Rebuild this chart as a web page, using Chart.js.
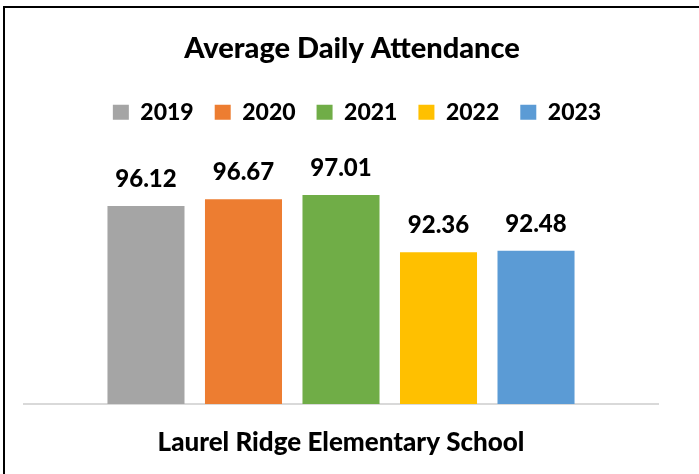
<!DOCTYPE html>
<html>
<head>
<meta charset="utf-8">
<title>Average Daily Attendance</title>
<script src="https://cdn.jsdelivr.net/npm/chart.js@4/dist/chart.umd.min.js"></script>
<style>
  html, body { margin: 0; padding: 0; background: #fff; }
  #wrap { position: relative; width: 699px; height: 474px; overflow: hidden; }
  #chart { position: absolute; left: 0; top: 0; }
  #frame {
    position: absolute; left: 3px; top: 6px; width: 720px; height: 500px;
    border-left: 2px solid #000; border-top: 2px solid #000; pointer-events: none;
  }
</style>
</head>
<body>
<div id="wrap">
  <canvas id="chart" width="699" height="474"></canvas>
  <div id="frame"></div>
</div>
<script>
const schools = ['Laurel Ridge Elementary School'];
const years = ['2019', '2020', '2021', '2022', '2023'];
const attendance = [96.12, 96.67, 97.01, 92.36, 92.48];
const yearColors = ['#A5A5A5', '#ED7D31', '#70AD47', '#FFC000', '#5B9BD5'];

const fontFamily = 'Lato, "Open Sans", sans-serif';
Chart.defaults.font.family = fontFamily;
Chart.defaults.font.weight = '900';
Chart.defaults.color = '#000';

// value labels above each bar
const valueLabels = {
  id: 'valueLabels',
  afterDatasetsDraw(chart) {
    const ctx = chart.ctx;
    ctx.save();
    ctx.font = '900 24px ' + fontFamily;
    ctx.fillStyle = '#000';
    ctx.textAlign = 'center';
    ctx.textBaseline = 'alphabetic';
    chart.data.datasets.forEach((ds, i) => {
      chart.getDatasetMeta(i).data.forEach((bar, j) => {
        ctx.fillText(ds.data[j].toFixed(2), bar.x, bar.y - 19);
      });
    });
    ctx.restore();
  }
};

// legend sits a little right of the chart centre in the original
const nudgeLegend = {
  id: 'nudgeLegend',
  afterLayout(chart) {
    if (chart.legend) {
      chart.legend.left += 5;
      chart.legend.right += 5;
    }
  }
};

const datasets = years.map((year, i) => ({
  label: year,
  data: [attendance[i]],
  backgroundColor: yearColors[i],
  categoryPercentage: 0.769,
  barPercentage: 0.79,
}));

new Chart(document.getElementById('chart'), {
  type: 'bar',
  data: { labels: schools, datasets: datasets },
  options: {
    responsive: false,
    animation: false,
    layout: { padding: { left: 24, right: 19, top: 0, bottom: 0 } },
    plugins: {
      title: {
        display: true,
        text: 'Average Daily Attendance',
        font: { size: 29, weight: '900' },
        color: '#000',
        padding: { top: 31, bottom: 14 },
      },
      legend: {
        display: true,
        position: 'top',
        labels: {
          boxWidth: 16,
          boxHeight: 15,
          padding: 21,
          font: { size: 23, weight: '900' },
          color: '#000',
        },
      },
      tooltip: { enabled: false },
    },
    scales: {
      x: {
        grid: { display: false, drawTicks: false },
        border: { display: true, color: '#D9D9D9', width: 2 },
        ticks: { padding: 23, font: { size: 26, weight: '900' }, color: '#000' },
        afterFit: (scale) => { scale.height = 70; },
      },
      y: {
        position: 'right',
        min: 80,
        max: 102,
        grid: { display: false, drawTicks: false },
        border: { display: false },
        ticks: { display: false },
        afterFit: (scale) => { scale.width = 22; },
      },
    },
  },
  plugins: [valueLabels, nudgeLegend],
});
</script>
</body>
</html>
